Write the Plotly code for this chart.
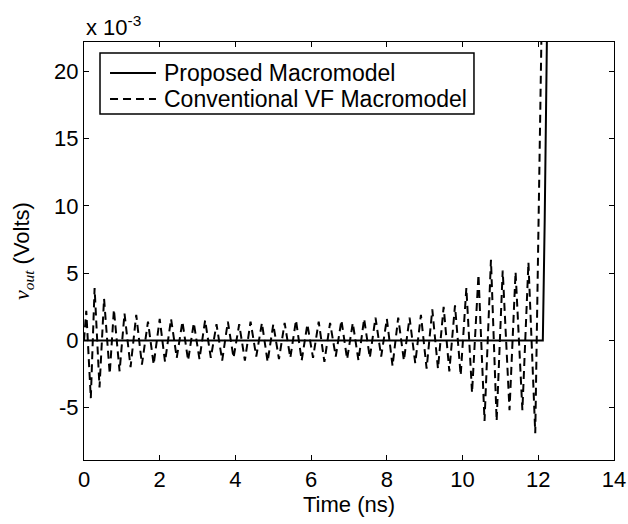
import plotly.graph_objects as go

# Time (ns) and output voltage (x 1e-3 V)
t_proposed = [0.0, 12.12, 12.17, 12.22, 12.26]
v_proposed = [0.0, 0.0, 9.0, 22.0, 30.0]

t_conv = [0.00, 0.06, 0.18, 0.28, 0.41, 0.53, 0.68, 0.79, 0.94, 1.07,
          1.23, 1.38, 1.53, 1.69, 1.84, 2.00, 2.14, 2.30, 2.45, 2.60,
          2.75, 2.90, 3.05, 3.20, 3.35, 3.50, 3.65, 3.80, 3.95, 4.10,
          4.25, 4.40, 4.55, 4.70, 4.85, 5.00, 5.15, 5.30, 5.45, 5.60,
          5.75, 5.90, 6.05, 6.20, 6.35, 6.50, 6.65, 6.80, 6.95, 7.10,
          7.25, 7.40, 7.55, 7.70, 7.85, 8.00, 8.15, 8.30, 8.45, 8.60,
          8.75, 8.90, 9.05, 9.20, 9.35, 9.50, 9.65, 9.80, 9.95, 10.10,
          10.25, 10.42, 10.58, 10.75, 10.90, 11.06, 11.24, 11.40, 11.58, 11.74,
          11.92, 12.08, 12.10]
v_conv = [0.0, 2.2, -4.3, 3.9, -3.5, 3.1, -2.5, 2.3, -2.3, 2.0,
          -2.0, 1.9, -1.8, 1.4, -1.8, 1.6, -1.6, 1.6, -1.3, 1.4,
          -1.5, 1.3, -1.4, 1.5, -1.3, 1.2, -1.5, 1.4, -1.3, 1.2,
          -1.5, 1.4, -1.2, 1.3, -1.6, 1.2, -1.4, 1.3, -1.3, 1.5,
          -1.5, 1.2, -1.3, 1.4, -1.6, 1.3, -1.2, 1.5, -1.4, 1.3,
          -1.5, 1.6, -1.3, 1.7, -1.2, 1.6, -1.9, 1.7, -1.5, 1.7,
          -1.7, 1.9, -2.1, 2.3, -2.1, 2.5, -2.3, 2.6, -2.6, 3.9,
          -3.9, 4.9, -6.0, 6.0, -6.0, 5.2, -5.2, 5.1, -5.2, 5.8,
          -6.9, 22.0, 30.0]

x_ticks = [0, 2, 4, 6, 8, 10, 12, 14]
y_ticks = [-5, 0, 5, 10, 15, 20]
series_names = ["Proposed Macromodel", "Conventional VF Macromodel"]

FONT = "Liberation Sans, Arial, Helvetica, sans-serif"
FS = 22
DASH = "8px,5px"

fig = go.Figure()
fig.add_trace(go.Scatter(x=t_proposed, y=v_proposed, mode="lines",
                         name=series_names[0], showlegend=False,
                         line=dict(color="black", width=2)))
fig.add_trace(go.Scatter(x=t_conv, y=v_conv, mode="lines",
                         name=series_names[1], showlegend=False,
                         line=dict(color="black", width=2, dash=DASH)))

axis_common = dict(showgrid=False, zeroline=False, showline=True, linecolor="black",
                   linewidth=1, mirror="ticks", ticks="inside", ticklen=5,
                   tickcolor="black", automargin=False,
                   tickfont=dict(family=FONT, size=FS, color="black"))

fig.update_xaxes(range=[0, 14], tickvals=x_ticks, ticktext=[str(v) for v in x_ticks],
                 title=dict(text="Time (ns)", font=dict(family=FONT, size=FS, color="black"),
                            standoff=4),
                 **axis_common)
fig.update_yaxes(range=[-8.9, 22.2], tickvals=y_ticks, ticktext=[str(v) for v in y_ticks],
                 title=dict(text="<span style='font-family:Liberation Serif'><i>v</i><sub><i>out</i></sub></span> (Volts)",
                            font=dict(family=FONT, size=FS, color="black"), standoff=18),
                 **axis_common)

fig.add_annotation(x=0, y=1, xref="paper", yref="paper", xanchor="left", yanchor="bottom",
                   text="x 10<sup>-3</sup>", showarrow=False, yshift=0, xshift=0,
                   font=dict(family=FONT, size=FS, color="black"))

# Legend box drawn manually (MATLAB style)
lx0, lx1, ly0, ly1 = 0.0302, 0.7358, 0.8278, 0.9737
fig.add_shape(type="rect", xref="paper", yref="paper", x0=lx0, x1=lx1, y0=ly0, y1=ly1,
              line=dict(color="black", width=1.5), fillcolor="white", layer="above")
rows = [0.9258, 0.8636]
dashes = ["solid", DASH]
for name, yy, d in zip(series_names, rows, dashes):
    fig.add_shape(type="line", xref="paper", yref="paper", x0=0.0491, x1=0.1358,
                  y0=yy, y1=yy, line=dict(color="black", width=2, dash=d), layer="above")
    fig.add_annotation(x=0.1472, y=yy, xref="paper", yref="paper", xanchor="left",
                       yanchor="middle", text=name, showarrow=False,
                       font=dict(family=FONT, size=23, color="black"))

fig.update_layout(
    width=628, height=524,
    margin=dict(l=84, r=14, t=42, b=64),
    plot_bgcolor="white", paper_bgcolor="white",
    font=dict(family=FONT, size=FS, color="black"),
    showlegend=False,
)

fig.write_html("out.html")
